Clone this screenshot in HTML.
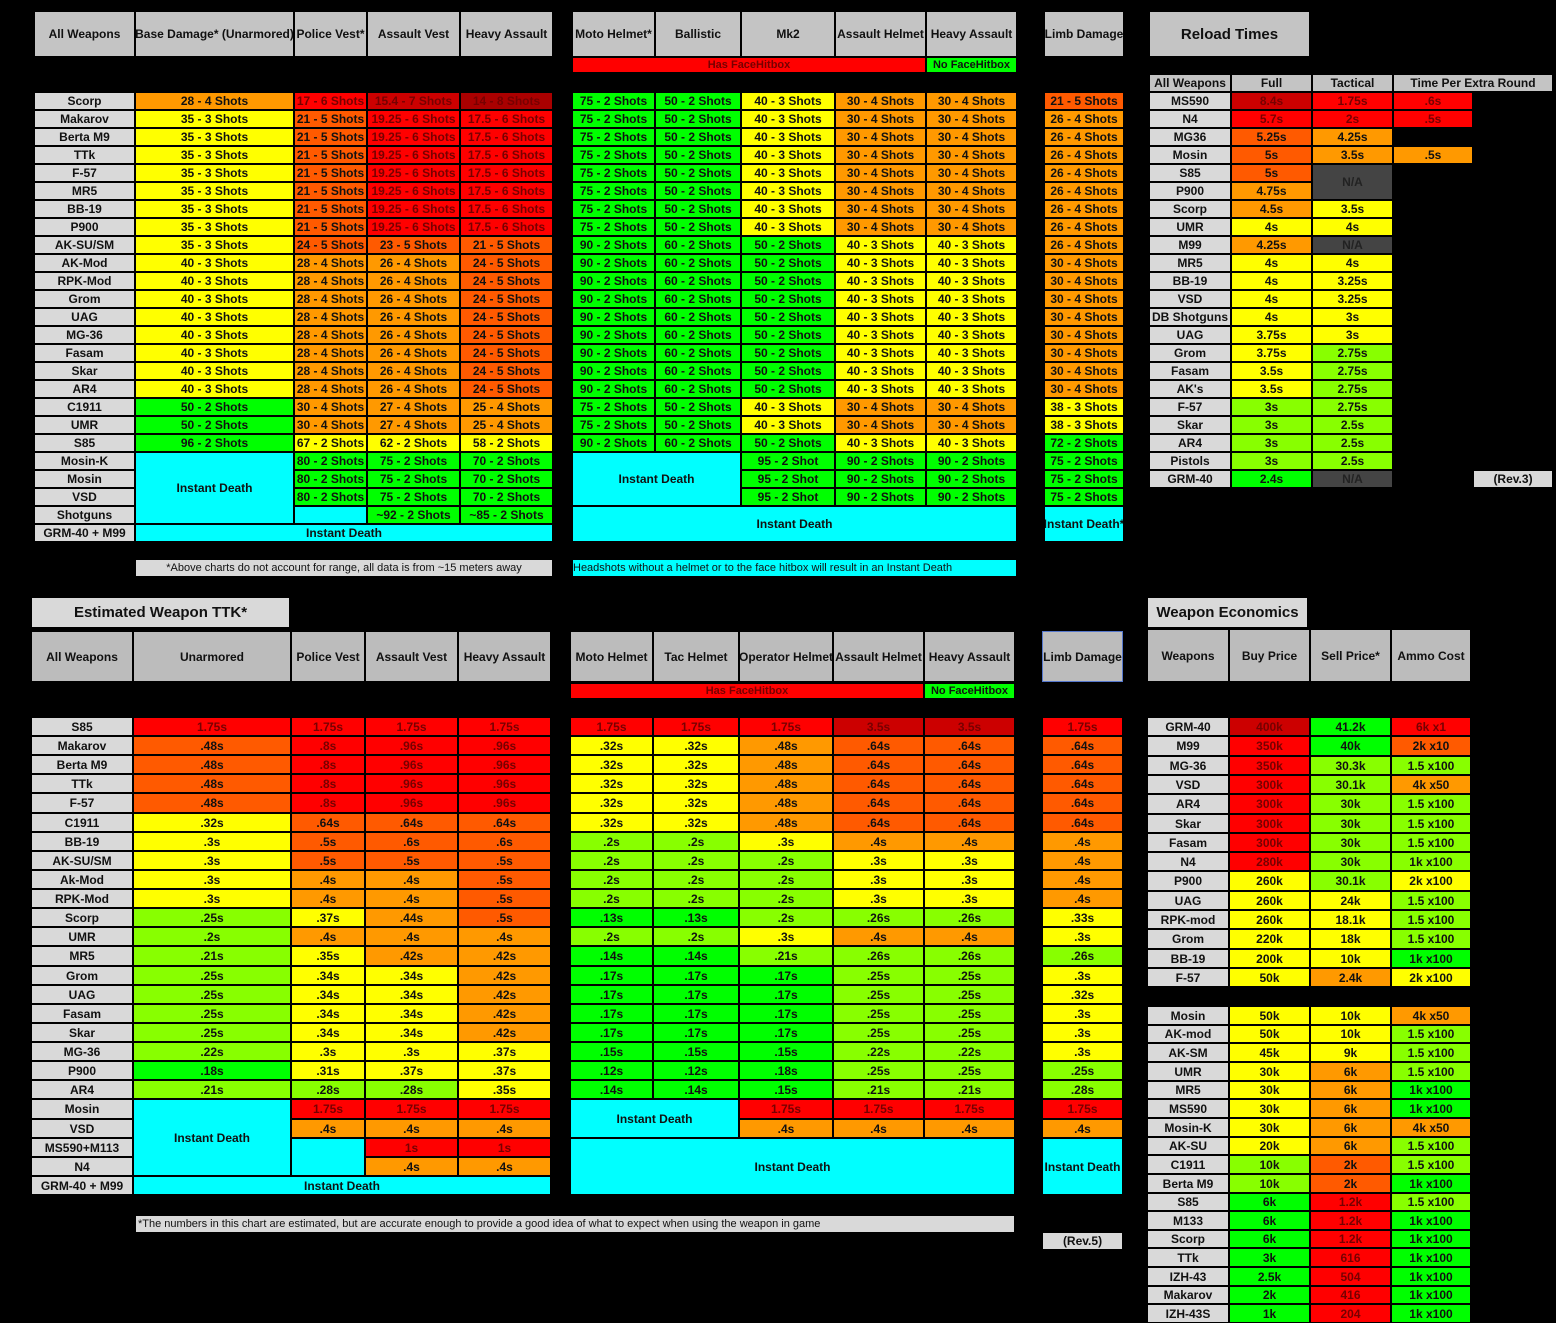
<!DOCTYPE html>
<html><head><meta charset="utf-8"><style>
html,body{margin:0;padding:0;background:#000;}
body{width:1556px;height:1321px;position:relative;overflow:hidden;font-family:"Liberation Sans",Arial,sans-serif;}
.c{position:absolute;box-sizing:border-box;border:1px solid #000;display:flex;align-items:center;justify-content:center;text-align:center;font-size:12px;font-weight:bold;color:#111;white-space:nowrap;overflow:hidden;line-height:1;}
</style></head><body>
<script>
const C={Y:'#ffff00',O:'#ff9900',D:'#ff5a00',R:'#ff0000',K:'#cc0000',X:'#aa0000',G:'#00ff00',L:'#88ff00',A:'#00ffff',N:'#444444',W:'#d9d9d9',H:'#c4c4c4',M:'#bcbcbc'};
const dark={R:1,K:1,X:1,N:1};
function c(x,y,w,h,code,t,fs){const d=document.createElement('div');d.className='c';d.style.left=x+'px';d.style.top=y+'px';d.style.width=w+'px';d.style.height=h+'px';d.style.background=C[code];if(dark[code])d.style.color=code=='N'?'#222':'#700';if(fs)d.style.fontSize=fs+'px';d.textContent=t;document.body.appendChild(d);return d;}
function Y(y0,h,n){const a=[];for(let i=0;i<=n;i++)a.push(Math.round(y0+h*i));return a;}
function tbl(cols,ys,rows){rows.forEach((r,i)=>{r.split('|').forEach((s,j)=>{if(s==='-')return;c(cols[j],ys[i],cols[j+1]-cols[j],ys[i+1]-ys[i],s[0],s.slice(2));});});}
function rep(s,n){return Array(n).fill(s);}
function lab(names,rows){return rows.map((r,i)=>'W:'+names[i]+'|'+r);}

/* ---------- TOP ---------- */
const tl=[34,135,294,367,460,553], tm=[572,655,741,835,926,1017], tlimb=[1044,1124];
['All Weapons','Base Damage* (Unarmored)','Police Vest*','Assault Vest','Heavy Assault'].forEach((t,j)=>c(tl[j],11,tl[j+1]-tl[j],46,'H',t));
['Moto Helmet*','Ballistic','Mk2','Assault Helmet','Heavy Assault'].forEach((t,j)=>c(tm[j],11,tm[j+1]-tm[j],46,'H',t));
c(1044,11,80,46,'H','Limb Damage');
c(572,57,354,16,'R','Has FaceHitbox',11);c(926,57,91,16,'G','No FaceHitbox',11);
const ty=Y(92,18,25);
const nT=['Scorp','Makarov','Berta M9','TTk','F-57','MR5','BB-19','P900','AK-SU/SM','AK-Mod','RPK-Mod','Grom','UAG','MG-36','Fasam','Skar','AR4','C1911','UMR','S85','Mosin-K','Mosin','VSD','Shotguns','GRM-40 + M99'];
let r1=['O:28 - 4 Shots|R:17 - 6 Shots|K:15.4 - 7 Shots|X:14 - 8 Shots'];
r1=r1.concat(rep('Y:35 - 3 Shots|D:21 - 5 Shots|R:19.25 - 6 Shots|R:17.5 - 6 Shots',7));
r1.push('Y:35 - 3 Shots|D:24 - 5 Shots|D:23 - 5 Shots|D:21 - 5 Shots');
r1=r1.concat(rep('Y:40 - 3 Shots|O:28 - 4 Shots|O:26 - 4 Shots|D:24 - 5 Shots',8));
r1=r1.concat(rep('G:50 - 2 Shots|O:30 - 4 Shots|O:27 - 4 Shots|O:25 - 4 Shots',2));
r1.push('G:96 - 2 Shots|Y:67 - 2 Shots|Y:62 - 2 Shots|Y:58 - 2 Shots');
r1=r1.concat(rep('-|G:80 - 2 Shots|G:75 - 2 Shots|G:70 - 2 Shots',3));
r1.push('-|-|G:~92 - 2 Shots|G:~85 - 2 Shots');
r1.push('-|-|-|-');
tbl(tl,ty,lab(nT,r1));
c(135,452,159,72,'A','Instant Death');c(294,506,73,18,'A','');
c(135,524,418,18,'A','Instant Death');
let r2=[];
r2=r2.concat(rep('G:75 - 2 Shots|G:50 - 2 Shots|Y:40 - 3 Shots|O:30 - 4 Shots|O:30 - 4 Shots',8));
r2=r2.concat(rep('G:90 - 2 Shots|G:60 - 2 Shots|G:50 - 2 Shots|Y:40 - 3 Shots|Y:40 - 3 Shots',9));
r2=r2.concat(rep('G:75 - 2 Shots|G:50 - 2 Shots|Y:40 - 3 Shots|O:30 - 4 Shots|O:30 - 4 Shots',2));
r2.push('G:90 - 2 Shots|G:60 - 2 Shots|G:50 - 2 Shots|Y:40 - 3 Shots|Y:40 - 3 Shots');
r2=r2.concat(rep('-|-|G:95 - 2 Shot|G:90 - 2 Shots|G:90 - 2 Shots',3));
tbl(tm,ty,r2);
c(572,452,169,54,'A','Instant Death');c(572,506,445,36,'A','Instant Death');
let r3=['D:21 - 5 Shots'].concat(rep('O:26 - 4 Shots',8),rep('O:30 - 4 Shots',8),rep('Y:38 - 3 Shots',2),['G:72 - 2 Shots'],rep('G:75 - 2 Shots',3));
tbl(tlimb,ty,r3);
c(1044,506,80,36,'A','Instant Death*');
c(135,559,418,18,'W','*Above charts do not account for range, all data is from ~15 meters away',11).style.fontWeight='normal';
let n1=c(572,559,445,18,'A','Headshots without a helmet or to the face hitbox will result in an Instant Death',11);n1.style.fontWeight='normal';n1.style.justifyContent='flex-start';

/* Reload */
c(1149,11,161,46,'H','Reload Times',15);
const rh=[1149,1231,1312,1393,1553];
['All Weapons','Full','Tactical','Time Per Extra Round'].forEach((t,j)=>c(rh[j],74,rh[j+1]-rh[j],18,'H',t));
const rc=[1149,1231,1312,1393,1473];
const rn=['MS590','N4','MG36','Mosin','S85','P900','Scorp','UMR','M99','MR5','BB-19','VSD','DB Shotguns','UAG','Grom','Fasam',"AK's",'F-57','Skar','AR4','Pistols','GRM-40'];
const rr=['K:8.4s|R:1.75s|R:.6s','R:5.7s|R:2s|R:.5s','D:5.25s|O:4.25s','D:5s|O:3.5s|O:.5s','D:5s|-','O:4.75s|-','O:4.5s|Y:3.5s','Y:4s|Y:4s','O:4.25s|N:N/A','Y:4s|Y:4s','Y:4s|Y:3.25s','Y:4s|Y:3.25s','Y:4s|Y:3s','Y:3.75s|Y:3s','Y:3.75s|L:2.75s','Y:3.5s|L:2.75s','Y:3.5s|L:2.75s','L:3s|L:2.75s','L:3s|L:2.5s','L:3s|L:2.5s','L:3s|L:2.5s','G:2.4s|N:N/A'];
tbl(rc,Y(92,18,22),lab(rn,rr));
c(1312,164,81,36,'N','N/A');
c(1473,470,80,18,'W','(Rev.3)');

/* ---------- BOTTOM ---------- */
c(31,597,259,31,'W','Estimated Weapon TTK*',15);
const bl=[31,133,291,365,458,551], bm=[570,653,739,833,924,1015], bli=[1042,1123];
['All Weapons','Unarmored','Police Vest','Assault Vest','Heavy Assault'].forEach((t,j)=>c(bl[j],631,bl[j+1]-bl[j],51,'M',t));
['Moto Helmet','Tac Helmet','Operator Helmet','Assault Helmet','Heavy Assault'].forEach((t,j)=>c(bm[j],631,bm[j+1]-bm[j],51,'M',t));
let lh=c(1042,631,81,51,'M','Limb Damage');lh.style.border='1px solid #5577cc';
c(570,683,354,16,'R','Has FaceHitbox',11);c(924,683,91,16,'G','No FaceHitbox',11);
const by=Y(717,19.12,25);
const nB=['S85','Makarov','Berta M9','TTk','F-57','C1911','BB-19','AK-SU/SM','Ak-Mod','RPK-Mod','Scorp','UMR','MR5','Grom','UAG','Fasam','Skar','MG-36','P900','AR4','Mosin','VSD','MS590+M113','N4','GRM-40 + M99'];
let b1=['R:1.75s|R:1.75s|R:1.75s|R:1.75s'].concat(rep('D:.48s|R:.8s|R:.96s|R:.96s',4),[
'Y:.32s|D:.64s|D:.64s|D:.64s','Y:.3s|D:.5s|D:.6s|D:.6s','Y:.3s|D:.5s|D:.5s|D:.5s','Y:.3s|O:.4s|O:.4s|D:.5s','Y:.3s|O:.4s|O:.4s|D:.5s',
'L:.25s|Y:.37s|O:.44s|D:.5s','L:.2s|O:.4s|O:.4s|O:.4s','L:.21s|Y:.35s|O:.42s|O:.42s'],rep('L:.25s|Y:.34s|Y:.34s|O:.42s',4),[
'L:.22s|Y:.3s|Y:.3s|Y:.37s','G:.18s|Y:.31s|Y:.37s|Y:.37s','L:.21s|L:.28s|L:.28s|Y:.35s',
'-|R:1.75s|R:1.75s|R:1.75s','-|O:.4s|O:.4s|O:.4s','-|-|R:1s|R:1s','-|-|O:.4s|O:.4s','-|-|-|-']);
tbl(bl,by,lab(nB,b1));
c(133,by[20],158,by[24]-by[20],'A','Instant Death');c(291,by[22],74,by[24]-by[22],'A','');
c(133,by[24],418,by[25]-by[24],'A','Instant Death');
let b2=['R:1.75s|R:1.75s|R:1.75s|K:3.5s|K:3.5s'].concat(rep('Y:.32s|Y:.32s|O:.48s|D:.64s|D:.64s',5),[
'L:.2s|L:.2s|Y:.3s|O:.4s|O:.4s'],rep('L:.2s|L:.2s|L:.2s|Y:.3s|Y:.3s',3),[
'G:.13s|G:.13s|L:.2s|L:.26s|L:.26s','L:.2s|L:.2s|Y:.3s|O:.4s|O:.4s','G:.14s|G:.14s|L:.21s|L:.26s|L:.26s'],rep('G:.17s|G:.17s|G:.17s|L:.25s|L:.25s',4),[
'G:.15s|G:.15s|G:.15s|L:.22s|L:.22s','G:.12s|G:.12s|G:.18s|L:.25s|L:.25s','G:.14s|G:.14s|G:.15s|L:.21s|L:.21s',
'-|-|R:1.75s|R:1.75s|R:1.75s','-|-|O:.4s|O:.4s|O:.4s']);
tbl(bm,by,b2);
c(570,by[20],169,by[22]-by[20],'A','Instant Death');c(570,by[22],445,by[25]-by[22],'A','Instant Death');
let b3=['R:1.75s'].concat(rep('D:.64s',5),rep('O:.4s',4),['Y:.33s','Y:.3s','L:.26s','Y:.3s','Y:.32s','Y:.3s','Y:.3s','Y:.3s','L:.25s','L:.28s','R:1.75s','O:.4s']);
tbl(bli,by,b3);
c(1042,by[22],81,by[25]-by[22],'A','Instant Death');
let n2=c(135,1215,880,18,'W','*The numbers in this chart are estimated, but are accurate enough to provide a good idea of what to expect when using the weapon in game',11);n2.style.fontWeight='normal';n2.style.justifyContent='flex-start';n2.style.paddingLeft='2px';
c(1042,1232,81,18,'W','(Rev.5)');

/* Economics */
c(1147,597,161,31,'W','Weapon Economics',15);
const ec=[1147,1229,1310,1391,1471];
['Weapons','Buy Price','Sell Price*','Ammo Cost'].forEach((t,j)=>c(ec[j],629,ec[j+1]-ec[j],53,'M',t));
const e1n=['GRM-40','M99','MG-36','VSD','AR4','Skar','Fasam','N4','P900','UAG','RPK-mod','Grom','BB-19','F-57'];
const e1=['K:400k|G:41.2k|R:6k x1','R:350k|G:40k|D:2k x10','R:350k|L:30.3k|L:1.5 x100','R:300k|L:30.1k|O:4k x50','R:300k|L:30k|L:1.5 x100','R:300k|L:30k|L:1.5 x100','R:300k|L:30k|L:1.5 x100','R:280k|L:30k|L:1k x100','Y:260k|L:30.1k|Y:2k x100','Y:260k|Y:24k|L:1.5 x100','Y:260k|Y:18.1k|L:1.5 x100','Y:220k|Y:18k|L:1.5 x100','Y:200k|Y:10k|G:1k x100','Y:50k|O:2.4k|Y:2k x100'];
tbl(ec,Y(717,19.3,14),lab(e1n,e1));
const e2n=['Mosin','AK-mod','AK-SM','UMR','MR5','MS590','Mosin-K','AK-SU','C1911','Berta M9','S85','M133','Scorp','TTk','IZH-43','Makarov','IZH-43S'];
const e2=['Y:50k|Y:10k|O:4k x50','Y:50k|Y:10k|L:1.5 x100','Y:45k|Y:9k|L:1.5 x100','Y:30k|O:6k|L:1.5 x100','Y:30k|O:6k|G:1k x100','Y:30k|O:6k|G:1k x100','Y:30k|O:6k|O:4k x50','Y:20k|O:6k|L:1.5 x100','L:10k|D:2k|L:1.5 x100','L:10k|D:2k|G:1k x100','G:6k|R:1.2k|L:1.5 x100','G:6k|R:1.2k|G:1k x100','G:6k|R:1.2k|G:1k x100','G:3k|R:616|G:1k x100','G:2.5k|R:504|G:1k x100','G:2k|R:416|G:1k x100','G:1k|R:204|G:1k x100'];
tbl(ec,Y(1006,18.65,17),lab(e2n,e2));
</script>
</body></html>
